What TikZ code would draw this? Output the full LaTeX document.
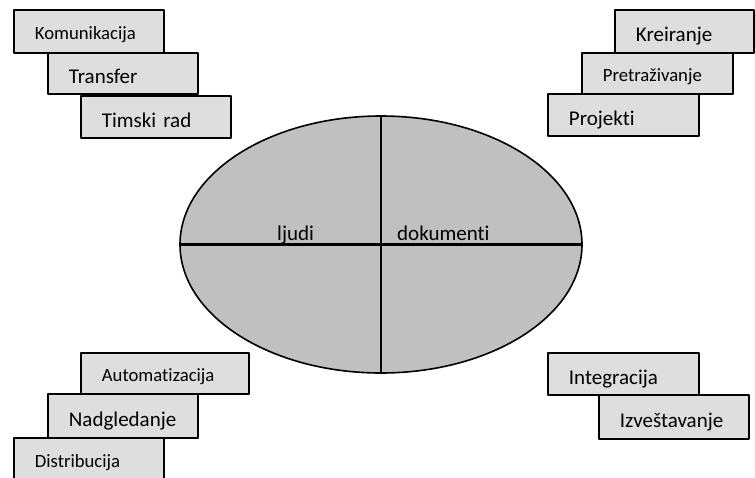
\documentclass[tikz,border=0pt]{standalone}
\usepackage{fontspec}
\setmainfont{Carlito}[Ligatures=NoCommon]
\usetikzlibrary{shapes.geometric}
\definecolor{boxgray}{RGB}{222,222,222}
\definecolor{coregray}{RGB}{192,192,192}
\begin{document}
\begin{tikzpicture}[x=1pt,y=-1pt,line join=round,font=\fontsize{21}{25}\selectfont]
	\tikzset{box/.style={draw,line width=1.8pt,fill=boxgray,anchor=north west,inner xsep=21pt,inner ysep=0pt,align=left,text depth=0pt},
		bigtext/.style={text height=21pt},
		smalltext/.style={font=\fontsize{18.7}{22}\selectfont,text height=17pt}}
	\useasboundingbox (0,0) rectangle (755,477);
	\node [ellipse,draw,line width=1.6pt,fill=coregray,minimum width=402pt,minimum height=257pt,inner sep=0pt] (core) at (381,244.5) {};
	\draw [line width=2.8pt] (core.north)--(core.south) (core.west)--(core.east);
	\node [anchor=base west,inner sep=0pt] (ppl) at (277,240) {ljudi};
	\node [anchor=base west,inner sep=0pt] (docs) at (397,240) {dokumenti};
	\foreach \n/\x/\y/\w/\h/\f/\t [evaluate=\w as \tw using \w-42] in {kom/13/9/150/43/smalltext/Komunikacija,trf/47/52/150/41/bigtext/Transfer,tim/80/95/150/42/bigtext/Timski rad,
		kre/614/9/139/43/bigtext/Kreiranje,pre/581/52/151/41/smalltext/Pretraživanje,pro/547/93/151/42/bigtext/Projekti,
		aut/80/352/168/41/smalltext/Automatizacija,nad/47/393/150/44/bigtext/Nadgledanje,dis/13/437/150/43/smalltext/Distribucija,
		int/547/352/151/42/bigtext/Integracija,izv/598/394/150/44/bigtext/Izveštavanje}{
		\node [box,\f,text width=\tw pt,minimum height=\h pt] (\n) at (\x,\y) {\t};
	}
\end{tikzpicture}
\end{document}
